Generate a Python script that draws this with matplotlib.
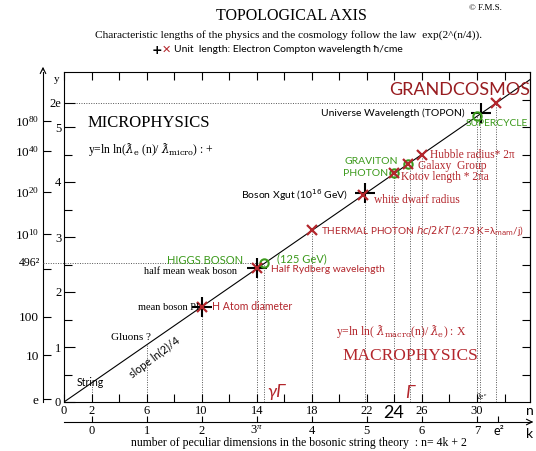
import numpy as np
import matplotlib
matplotlib.use('Agg')
import matplotlib.pyplot as plt

# Polices
SERIF = ['Liberation Serif', 'DejaVu Serif']
SANS = ['Lato', 'DejaVu Sans']
plt.rcParams['mathtext.fontset'] = 'custom'
plt.rcParams['mathtext.rm'] = 'Liberation Serif'
plt.rcParams['mathtext.it'] = 'Liberation Serif:italic'

RED = '#b3262c'
DRED = '#981c20'
GREEN = '#3c9a1c'

# Données (n, y = ln ln(lambda))
line_n = [0, 33.9]
line_y = [0, 5.87]

plus_n = [10, 14, 21.9, 30.3]          # microphysique (+)
plus_y = [1.73, 2.43, 3.80, 5.25]

cross_n = [10, 14, 18, 21.7, 24, 25, 26, 31.4]   # macrophysique (X)
cross_y = [1.73, 2.43, 3.12, 3.76, 4.16, 4.33, 4.50, 5.44]

circle_n = [14.55, 24, 25, 30]          # Higgs, photon, graviton, supercycle
circle_y = [2.52, 4.16, 4.33, 5.20]

vline_n = [2, 6, 10, 14, 14.55, 18, 21.9, 24, 25.1, 26, 30, 30.25, 31.4]
vline_y = [0.35, 1.04, 1.73, 2.43, 2.52, 3.12, 3.80, 4.16, 4.33, 4.50, 5.20, 5.44, 5.44]

hline_y = [2 * np.e, 2.52]
hline_n0 = [0, -1.55]
hline_n1 = [30.25, 14.55]

n_major = [0, 2, 6, 10, 14, 18, 22, 26, 30]
n_minor = [4, 8, 12, 16, 20, 24, 28, 32]
y_major = [0, 1, 2, 3, 4, 5, 2 * np.e]
y_major_lab = ['0', '1', '2', '3', '4', '5', '2e']
y_minor = [0.5, 1.5, 2.5, 3.5, 4.5]
y_right = [0.5, 1, 1.5, 2, 2.5, 3, 3.5, 4, 4.5, 5, 5.5]

outer_y = [0.05, 0.85, 1.55, 2.42, 3.05, 3.82, 4.56, 5.11]
outer_lab = ['e', '10', '100', '', r'$10^{10}$', r'$10^{20}$', r'$10^{40}$', r'$10^{80}$']

k_ticks = [0, 1, 2, 3, 4, 5, 6, 7, np.e ** 2]
k_lab = ['0', '1', '2', r'3$^{\pi}$', '4', '5', '6', '7', 'e²']

W, H = 536, 451
fig = plt.figure(figsize=(W / 100, H / 100), dpi=100)
fig.patch.set_facecolor('white')

# Axe principal
ax = fig.add_axes([64 / W, (H - 402) / H, 466 / W, 330 / H])
ax.set_xlim(0, 33.85)
ax.set_ylim(0, 6.0)

ax.plot(line_n, line_y, color='black', lw=0.8, zorder=2)
for n, y in zip(vline_n, vline_y):
    ax.plot([n, n], [0, y], color='#555555', lw=0.7, ls=(0, (1, 1.5)), zorder=1)
for y, a, b in zip(hline_y, hline_n0, hline_n1):
    ax.plot([a, b], [y, y], color='#555555', lw=0.7, ls=(0, (1, 1.5)), zorder=1, clip_on=False)

ax.plot(plus_n, plus_y, '+', ms=15, mew=1.5, color='black', zorder=3)
ax.plot(circle_n, circle_y, 'o', ms=6, mew=1.5, mfc='none', mec=GREEN, zorder=4)
ax.plot(cross_n, cross_y, 'x', ms=7, mew=1.6, color=RED, zorder=5)

ax.set_xticks(n_major)
ax.set_xticks(n_minor, minor=True)
ax.set_yticks(y_major)
ax.set_yticklabels(y_major_lab)
ax.set_yticks(y_minor, minor=True)
ax.tick_params(axis='both', which='both', direction='in', top=True, right=False,
               length=6, width=0.8, labelsize=9, pad=2)
ax.tick_params(axis='y', which='major', length=8)
for lab in ax.get_xticklabels() + ax.get_yticklabels():
    lab.set_family(SERIF)
for sp in ax.spines.values():
    sp.set_linewidth(0.8)

# Graduations de droite
axr = ax.secondary_yaxis('right')
axr.set_yticks(y_right)
axr.tick_params(direction='in', length=6, width=0.8, labelright=False)

# Axe extérieur (valeurs de lambda)
axo = ax.secondary_yaxis(-21 / 466)
axo.set_yticks(outer_y)
axo.set_yticklabels(outer_lab)
axo.tick_params(direction='in', length=6, width=0.8, labelsize=9.5, pad=3)
for lab in axo.get_yticklabels():
    lab.set_family(SERIF)
axo.spines['left'].set_linewidth(0.8)

# Axe k
axk = ax.secondary_xaxis(-20 / 330, functions=(lambda n: (np.asarray(n) - 2) / 4,
                                                lambda k: 4 * np.asarray(k) + 2))
axk.set_xticks(k_ticks)
axk.set_xticklabels(k_lab)
axk.tick_params(direction='in', length=4, width=0.8, labelsize=9, pad=2)
for lab in axk.get_xticklabels():
    lab.set_family(SERIF)
axk.get_xticklabels()[-1].set_family(SANS)
axk.spines['bottom'].set_linewidth(0.8)

# Couche de texte en pixels
ov = fig.add_axes([0, 0, 1, 1], zorder=10)
ov.set_xlim(0, W)
ov.set_ylim(H, 0)
ov.axis('off')
ov.patch.set_alpha(0)

ov.annotate('', xy=(43, 64), xytext=(43, 73),
            arrowprops=dict(arrowstyle='->', lw=0.8, color='black'))
ov.annotate('', xy=(536, 422), xytext=(528, 422),
            arrowprops=dict(arrowstyle='->', lw=0.8, color='black'))


def t(x, y, s, size=8, color='black', fam=SANS, ha='left', **kw):
    ov.text(x, y, s, fontsize=size, color=color, family=fam, ha=ha, va='center', **kw)


t(291, 16, 'TOPOLOGICAL AXIS', 11.5, fam=SERIF, ha='center')
t(502, 8, '© F.M.S.', 6.5, fam=SERIF, ha='right')
t(289, 35, 'Characteristic lengths of the physics and the cosmology follow the law  exp(2^(n/4)).',
  8.2, fam=SERIF, ha='center')
t(152, 50, '+', 9, fam=['DejaVu Sans'], weight='bold')
t(162, 50, '✕', 8, color=RED, fam=['DejaVu Sans'], weight='bold')
t(174, 50, 'Unit  length: Electron Compton wavelength ħ/cme', 7.5)

t(57, 80, 'y', 8, fam=SERIF, ha='center')
t(88, 123, 'MICROPHYSICS', 12, fam=SERIF)
t(88, 150, r'y=ln ln($ƛ_{\rm e}$ (n)/ $ƛ_{\rm micro}$) : +', 8.5, fam=SERIF,
  math_fontfamily='dejavuserif')

t(530, 90, 'GRANDCOSMOS', 13, color=DRED, ha='right')
t(465, 113, 'Universe Wavelength (TOPON)', 7.5, ha='right')
t(466, 124, 'SUPERCYCLE', 7.4, color=GREEN)
t(430, 155, 'Hubble radius* 2π', 8.3, color=RED, fam=SERIF)
t(398, 162, 'GRAVITON', 7.5, color=GREEN, ha='right')
t(388, 173, 'PHOTON', 7.5, color=GREEN, ha='right')
t(418, 166, 'Galaxy  Group', 8.3, color=RED, fam=SERIF)
t(401, 177, 'Kotov length * 2πa', 8.3, color=RED, fam=SERIF)
t(348, 195, r'Boson Xgut (10$^{16}$ GeV)', 7.5, ha='right', math_fontfamily='dejavusans')
t(374, 200, 'white dwarf radius', 8.3, color=RED, fam=SERIF)
t(321, 231, r'THERMAL PHOTON $\it{hc/2kT}$ (2.73 K=λ$_{\rm mam}$/j)', 7.2, color=RED,
  math_fontfamily='dejavusans')

t(167, 261, 'HIGGS BOSON', 8, color=GREEN)
t(277, 259, '(125 GeV)', 8, color=GREEN)
t(237, 271, 'half mean weak boson', 7.5, fam=SERIF, ha='right')
t(271, 269, 'Half Rydberg wavelength', 7.4, color=RED)
t(199, 307, 'mean boson PI', 7.5, fam=SERIF, ha='right')
t(212, 307, 'H Atom diameter', 7.6, color=RED)
t(111, 337, 'Gluons ?', 8, fam=SERIF)
t(155, 357, 'slope ln(2)/4', 7.8, ha='center', rotation=37, rotation_mode='anchor')
t(77, 383, 'String', 7.6)

t(336, 332, r'y=ln ln( $ƛ_{\rm macro}$(n)/ $ƛ_{\rm e}$) : X', 8.5, color=RED, fam=SERIF,
  math_fontfamily='dejavuserif')
t(342, 356, 'MACROPHYSICS', 12.5, color=RED, fam=SERIF)
t(267, 392, 'γΓ', 13, color=RED, style='italic')
t(405, 393, 'Γ', 13, color=RED, style='italic')
t(394, 413, '24', 13, ha='center')
t(476, 396, r'2e$^{\rm e}$', 5.5, fam=SERIF)
t(526, 411, 'n', 10)
t(530, 434, 'k', 10, ha='center')
t(299, 443, 'number of peculiar dimensions in the bosonic string theory  : n= 4k + 2',
  8.5, fam=SERIF, ha='center')
t(40, 263, '496²', 8.5, fam=SERIF, ha='right')

fig.savefig('out.png', dpi=100)
